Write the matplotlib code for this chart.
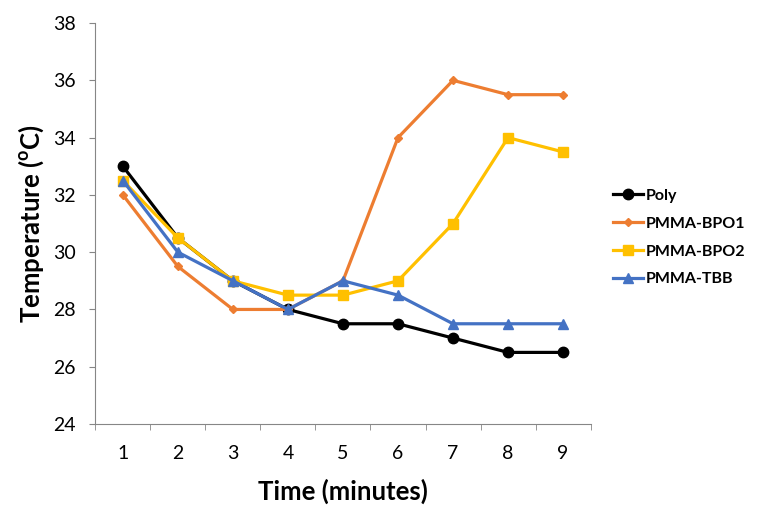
import numpy as np
import matplotlib.pyplot as plt

# data
time = [1, 2, 3, 4, 5, 6, 7, 8, 9]
poly = [33, 30.5, 29, 28, 27.5, 27.5, 27, 26.5, 26.5]
bpo1 = [32, 29.5, 28, 28, 29, 34, 36, 35.5, 35.5]
bpo2 = [32.5, 30.5, 29, 28.5, 28.5, 29, 31, 34, 33.5]
tbb = [32.5, 30, 29, 28, 29, 28.5, 27.5, 27.5, 27.5]

plt.rcParams['font.family'] = ['Lato', 'DejaVu Sans']

fig = plt.figure(figsize=(7.69, 5.13), dpi=100)
ax = fig.add_axes([0.124, 0.1735, 0.644, 0.7815])

ax.plot(time, poly, color='black', lw=2.3, marker='o', ms=7.5, label='Poly')
ax.plot(time, bpo1, color='#ED7D31', lw=2.3, marker='D', ms=4.5, label='PMMA-BPO1')
ax.plot(time, bpo2, color='#FFC000', lw=2.3, marker='s', ms=7.5, label='PMMA-BPO2')
ax.plot(time, tbb, color='#4472C4', lw=2.3, marker='^', ms=7.5, label='PMMA-TBB')

ax.set_xlim(0.5, 9.5)
ax.set_ylim(24, 38)
ax.set_yticks(np.arange(24, 39, 2))
ax.set_xticks(time)
ax.set_xticks(np.arange(0.5, 10, 1), minor=True)
ax.tick_params(axis='x', which='major', length=0, pad=15, labelsize=14)
ax.tick_params(axis='x', which='minor', length=4, color='#868686')
ax.tick_params(axis='y', length=4, color='#868686', labelsize=14, pad=10)

for s in ['top', 'right']:
    ax.spines[s].set_visible(False)
for s in ['left', 'bottom']:
    ax.spines[s].set_color('#868686')

ax.set_xlabel('Time (minutes)', fontsize=18.5, fontweight='bold', labelpad=12)
ax.set_ylabel('Temperature ($^{\\mathregular{o}}$C)', fontsize=18.5, fontweight='bold', labelpad=5)

ax.legend(loc='center left', bbox_to_anchor=(1.016, 0.465), frameon=False,
          prop={'weight': 'bold', 'size': 11.5}, handlelength=1.9,
          labelspacing=0.85, handletextpad=0.15)

fig.savefig('out.png', dpi=100)
